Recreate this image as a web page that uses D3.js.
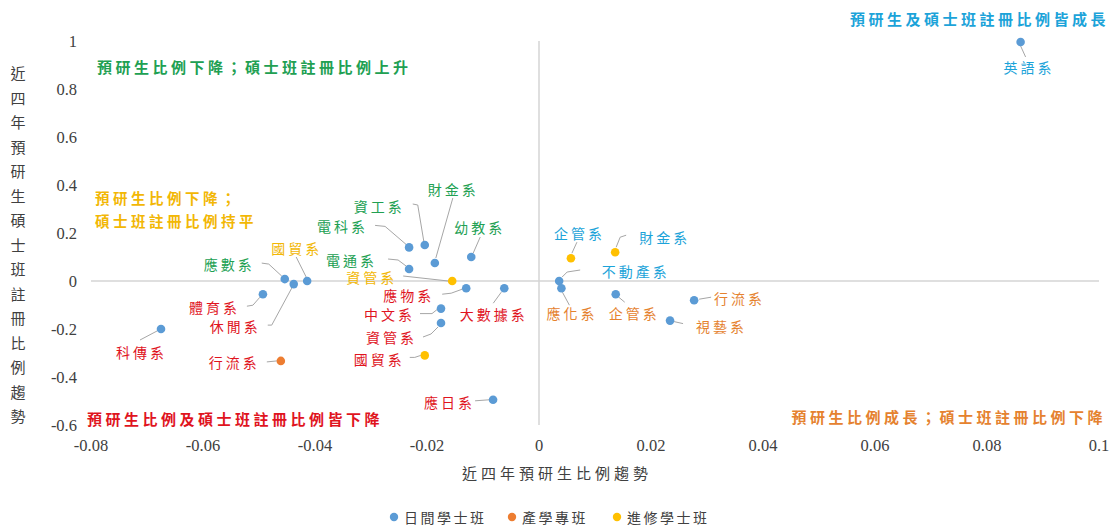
<!DOCTYPE html>
<html><head><meta charset="utf-8">
<script src="https://cdn.jsdelivr.net/npm/d3@7"></script>
<style>body{margin:0;background:#fff}svg{display:block}.serif{font-family:"Liberation Serif","DejaVu Serif",serif}</style>
</head><body>
<svg id="chart" width="1117" height="528"></svg>
<script>
// ---------- data ----------
const departments = ["英語系","企管系","財金系","不動產系","應化系","企管系","行流系","視藝系","應日系","大數據系","應物系","中文系","資管系","國貿系","資管系","電通系","電科系","資工系","財金系","幼教系","國貿系","應數系","休閒系","體育系","科傳系","行流系"];
const preGradTrend = [0.086,0.0057,0.0136,0.0036,0.004,0.0137,0.0277,0.0234,-0.0082,-0.0062,-0.013,-0.0175,-0.0175,-0.0204,-0.0155,-0.0232,-0.0232,-0.0204,-0.0186,-0.0121,-0.0414,-0.0454,-0.0438,-0.0493,-0.0675,-0.0461];
const masterRegTrend = [0.996,0.095,0.12,0.0,-0.03,-0.055,-0.08,-0.165,-0.495,-0.03,-0.03,-0.115,-0.175,-0.31,0.0,0.05,0.14,0.15,0.075,0.1,0.0,0.008,-0.013,-0.055,-0.2,-0.333];
const programIndex = [0,2,2,0,0,0,0,0,0,0,0,0,0,2,2,0,0,0,0,0,0,0,0,0,0,1];
const seriesNames = ["日間學士班","產學專班","進修學士班"];
const xTicks = [-0.08,-0.06,-0.04,-0.02,0,0.02,0.04,0.06,0.08,0.1];
const yTicks = [-0.6,-0.4,-0.2,0,0.2,0.4,0.6,0.8,1];
const xTitle = "近四年預研生比例趨勢";
const yTitle = "近四年預研生碩士班註冊比例趨勢";
const quadrantNotes = ["預研生比例下降；碩士班註冊比例上升","預研生比例下降；","碩士班註冊比例持平","預研生比例及碩士班註冊比例皆下降","預研生及碩士班註冊比例皆成長","預研生比例成長；碩士班註冊比例下降"];

// ---------- layout / style ----------
const seriesColors = ["#5b9bd5","#ed7d31","#ffc000"];
const tones = {g:"#21a052", y:"#f2b705", r:"#e0141e", c:"#1ca3d9", o:"#e5822f"};
const labelTone = ["c","c","c","c","o","o","o","o","r","r","r","r","r","r","y","g","g","g","g","g","y","g","r","r","r","r"];
// label centre offset from the dot, and leader polyline offsets (px)
const labelLayout = [
  [7,25,[[0,4],[5,15]]],
  [7,-25,[[1,-5],[6,-16]]],
  [48,-15,[[1,-5],[5,-15],[11,-17]]],
  [75,-10,[[3,-4],[8,-9],[21,-11]]],
  [9,25,[[1,4],[8,17]]],
  [17,19,[[3,3],[9,8]]],
  [44,-2,[[5,-1],[17,-3]]],
  [50,5,[[4,1],[13,3]]],
  [-45,2,[[-4,0],[-18,1]]],
  [-12,26,[[-3,4],[-11,15]]],
  [-59,7,[[-4,1],[-15,5],[-24,6]]],
  [-53,5,[[-4,1],[-9,5],[-21,5]]],
  [-51,14,[[-3,4],[-10,11],[-18,14]]],
  [-47,4,[[-4,0],[-10,2],[-15,2]]],
  [-82,-4,[[-4,0],[-49,-5]]],
  [-59,-9,[[-3,-3],[-11,-9],[-21,-10]]],
  [-68,-21,[[-3,-3],[-24,-21],[-34,-22]]],
  [-47,-39,[[-1,-4],[-7,-40],[-12,-41]]],
  [17,-74,[[1,-5],[18,-65]]],
  [7,-30,[[2,-4],[9,-20]]],
  [-12,-33,[[-1,-4],[-11,-24]]],
  [-57,-15,[[-3,-3],[-16,-15],[-23,-16]]],
  [-60,42,[[-2,4],[-22,41],[-26,41]]],
  [-50,13,[[-3,3],[-10,11],[-16,12]]],
  [-21,23,[[-4,2],[-21,11]]],
  [-48,1,[[-4,0],[-14,1]]]
];
const noteLayout = [
  {x:97,y:66,anchor:"start",tone:"g",size:15},
  {x:95,y:197,anchor:"start",tone:"y",size:14.5},
  {x:95,y:220,anchor:"start",tone:"y",size:14.5},
  {x:87,y:418,anchor:"start",tone:"r",size:15},
  {x:1109,y:18,anchor:"end",tone:"c",size:15},
  {x:1106,y:416,anchor:"end",tone:"o",size:15}
];

const CJK = "'Noto Sans CJK TC','Noto Sans CJK SC',sans-serif";

const svg = d3.select("#chart");
const x = d3.scaleLinear().domain([-0.08,0.1]).range([91,1099]);
const y = d3.scaleLinear().domain([-0.6,1]).range([425,41]);
const fmt = v => String(+v.toFixed(2));

// zero lines
svg.append("line").attr("x1",x(-0.08)).attr("x2",x(0.1)).attr("y1",y(0)).attr("y2",y(0))
  .attr("stroke","#d4d4d4").attr("stroke-width",1.5);
svg.append("line").attr("x1",x(0)).attr("x2",x(0)).attr("y1",y(1)).attr("y2",y(-0.6))
  .attr("stroke","#d4d4d4").attr("stroke-width",1.5);

// tick labels
svg.append("g").selectAll("text").data(xTicks).join("text").attr("class","serif")
  .attr("x",d=>x(d)).attr("y",445).attr("text-anchor","middle").attr("dominant-baseline","central")
  .style("font-size","16.5px").attr("fill","#404040").text(fmt);
svg.append("g").selectAll("text").data(yTicks).join("text").attr("class","serif")
  .attr("x",77).attr("y",d=>y(d)).attr("text-anchor","end").attr("dominant-baseline","central")
  .style("font-size","16.5px").attr("fill","#404040").text(fmt);

// axis titles
svg.append("text").attr("x",557).attr("y",472).attr("text-anchor","middle").attr("dominant-baseline","central")
  .attr("font-family",CJK).attr("font-size",15).attr("letter-spacing","4px").attr("fill","#404040").text(xTitle);
const yt = svg.append("text").attr("font-family",CJK).attr("font-size",15).attr("fill","#404040")
  .attr("text-anchor","middle").attr("dominant-baseline","central");
Array.from(yTitle).forEach((ch,i)=>{
  yt.append("tspan").attr("x",18).attr("y",72+i*24.5).text(ch);
});

// data rows
const rows = departments.map((n,i)=>({name:n,x:preGradTrend[i],y:masterRegTrend[i],s:programIndex[i],tone:labelTone[i],lay:labelLayout[i]}));

// leaders
svg.append("g").selectAll("polyline").data(rows).join("polyline")
  .attr("points",d=>{
    const px=x(d.x), py=y(d.y);
    return d.lay[2].map(p=>(px+p[0])+","+(py+p[1])).join(" ");
  })
  .attr("fill","none").attr("stroke","#a6a6a6").attr("stroke-width",1);

// points
svg.append("g").selectAll("circle").data(rows).join("circle")
  .attr("cx",d=>x(d.x)).attr("cy",d=>y(d.y)).attr("r",4.3)
  .attr("fill",d=>seriesColors[d.s]);

// labels
svg.append("g").selectAll("text").data(rows).join("text")
  .attr("x",d=>x(d.x)+d.lay[0]+1.5).attr("y",d=>y(d.y)+d.lay[1])
  .attr("text-anchor","middle").attr("dominant-baseline","central")
  .attr("font-family",CJK).attr("font-size",14).attr("letter-spacing","3px")
  .attr("fill",d=>tones[d.tone]).text(d=>d.name);

// quadrant notes
svg.append("g").selectAll("text").data(quadrantNotes).join("text")
  .attr("x",(d,i)=>noteLayout[i].x).attr("y",(d,i)=>noteLayout[i].y)
  .attr("text-anchor",(d,i)=>noteLayout[i].anchor).attr("dominant-baseline","central")
  .attr("font-family",CJK).attr("font-weight","bold").attr("font-size",(d,i)=>noteLayout[i].size)
  .attr("letter-spacing","3.5px").attr("fill",(d,i)=>tones[noteLayout[i].tone]).text(d=>d);

// legend
const legendX = [394,512,617];
const lg = svg.append("g").selectAll("g").data(seriesNames).join("g")
  .attr("transform",(d,i)=>`translate(${legendX[i]},517)`);
lg.append("circle").attr("r",4.2).attr("fill",(d,i)=>seriesColors[i]);
lg.append("text").attr("x",10).attr("dominant-baseline","central")
  .attr("font-family",CJK).attr("font-size",14).attr("letter-spacing","2.5px").attr("fill","#404040").text(d=>d);
</script>
</body></html>
